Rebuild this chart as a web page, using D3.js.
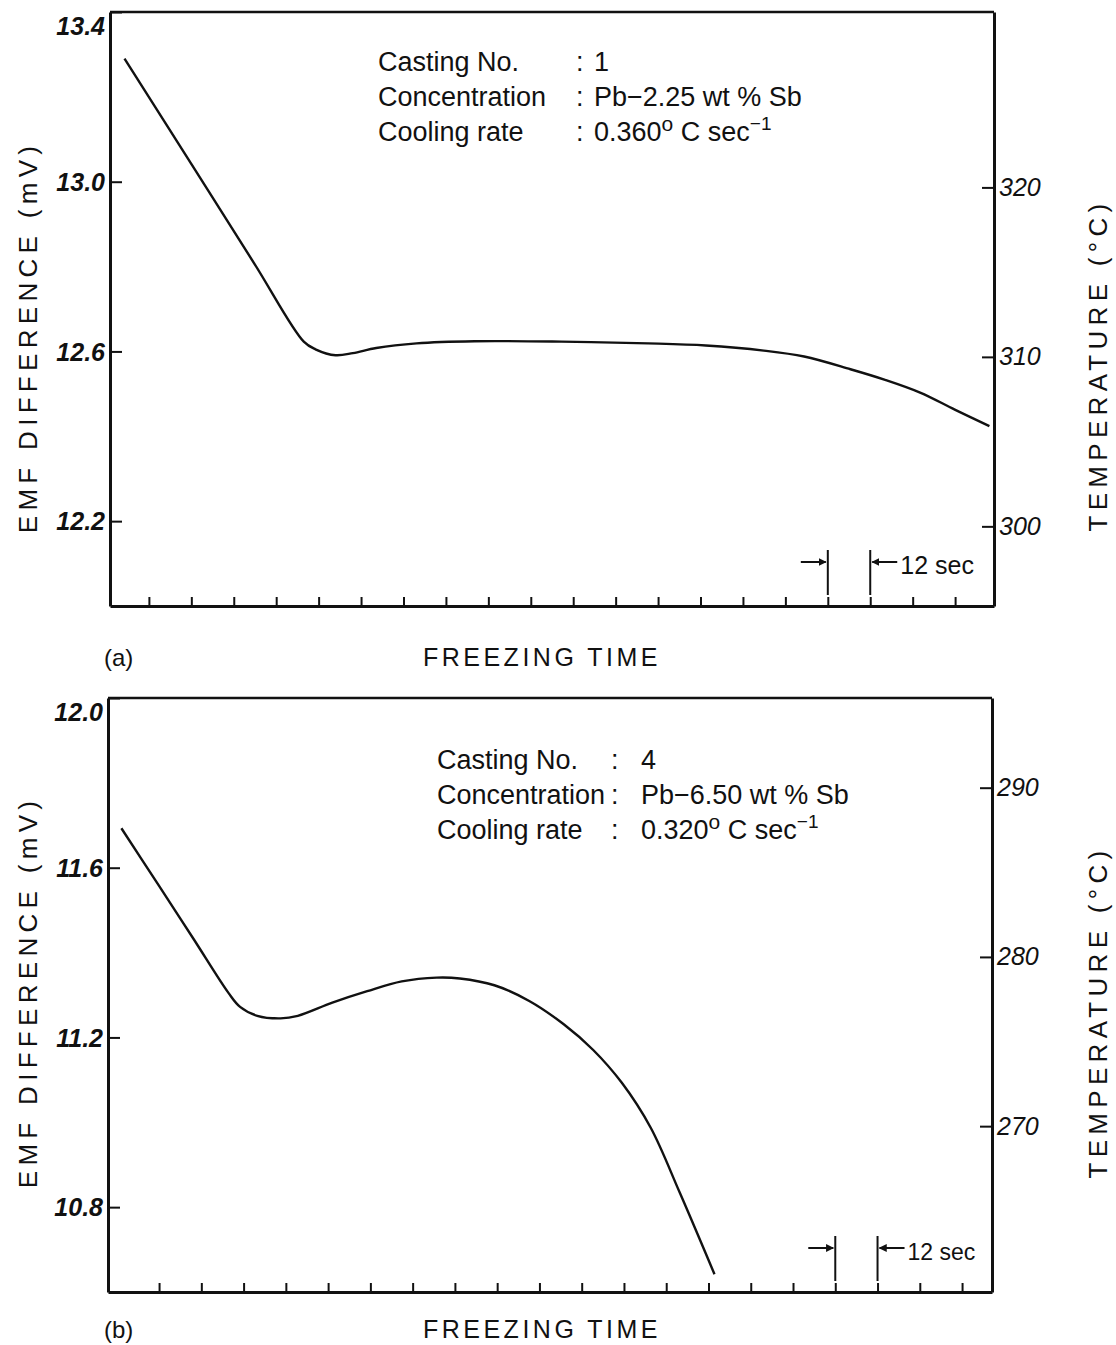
<!DOCTYPE html>
<html>
<head>
<meta charset="utf-8">
<script src="https://cdn.jsdelivr.net/npm/d3@7"></script>
<style>
  body { margin: 0; background: #fff; }
  text { font-family: "Liberation Sans", Arial, sans-serif; fill: #111; }
</style>
</head>
<body>
<script>
// (a) casting 1 : freezing time (s) vs emf difference (mV)
var timeA = [4.1, 22.9, 40.9, 54.8, 58.1, 63.8, 68.7, 75.3, 86.7, 103.1, 127.6, 152.2, 168.5, 184.9, 196.3, 209.4, 219.2, 229.1, 238.9, 248.7];
var emfA = [13.29, 13.043, 12.806, 12.623, 12.605, 12.591, 12.596, 12.608, 12.619, 12.624, 12.623, 12.619, 12.614, 12.602, 12.588, 12.558, 12.533, 12.503, 12.463, 12.424];

// (b) casting 4
var timeB = [3.8, 14.5, 24.3, 34.2, 37.5, 42.4, 49.0, 53.9, 63.7, 73.6, 83.4, 93.3, 99.9, 109.7, 119.6, 129.4, 137.7, 145.9, 154.1, 162.3, 172.2];
var emfB = [11.693, 11.557, 11.432, 11.305, 11.272, 11.251, 11.245, 11.251, 11.282, 11.309, 11.332, 11.341, 11.339, 11.323, 11.286, 11.231, 11.171, 11.093, 10.987, 10.835, 10.642];

var emfTicksA = [12.2, 12.6, 13.0, 13.4];
var emfTicksB = [10.8, 11.2, 11.6, 12.0];
var tempTicksA = [300, 310, 320];
var tempTicksB = [270, 280, 290];
var timeTicksA = [11, 23, 35, 47, 59, 71, 83, 95, 107, 119, 131, 143, 155, 167, 179, 191, 203, 215, 227, 239];
var timeTicksB = [14.5, 26.5, 38.5, 50.5, 62.5, 74.5, 86.5, 98.5, 110.5, 122.5, 134.5, 146.5, 158.5, 170.5, 182.5, 194.5, 206.5, 218.5, 230.5, 242.5];
var markA = [203, 215];
var markB = [206.5, 218.5];

var infoLabels = ["Casting No.", "Concentration", "Cooling rate"];
var infoA = ["1", "Pb\u22122.25 wt % Sb", "0.360"];
var infoB = ["4", "Pb\u22126.50 wt % Sb", "0.320"];

var svg = d3.select("body").append("svg").attr("width", 1116).attr("height", 1345);

svg.append("defs").append("marker")
  .attr("id", "arr").attr("viewBox", "0 0 10 10").attr("refX", 9).attr("refY", 5)
  .attr("markerWidth", 4).attr("markerHeight", 4).attr("orient", "auto")
  .append("path").attr("d", "M0,0L10,5L0,10z").attr("fill", "#111");

function panel(o) {
  var x = d3.scaleLinear().domain(o.xDom).range([o.left, o.right]);
  var y = d3.scaleLinear().domain(o.yDom).range([o.bottom, o.top]);
  var t = d3.scaleLinear().domain(o.tDom).range([o.bottom, o.top]);
  var g = svg.append("g");

  // frame top
  g.append("line").attr("x1", o.left).attr("x2", o.right).attr("y1", o.top).attr("y2", o.top)
    .attr("stroke", "#111").attr("stroke-width", 2.5);

  var ax = g.append("g").attr("transform", "translate(" + o.left + ",0)")
    .call(d3.axisLeft(y).tickValues(o.yTicks).tickSize(-12).tickSizeOuter(0).tickPadding(5).tickFormat(d3.format(".1f")));
  ax.selectAll("text").attr("font-size", 25).attr("font-style", "italic").attr("font-weight", "bold")
    .attr("dy", function (d) { return d === o.yDom[1] ? "0.9em" : "0.35em"; });

  var ar = g.append("g").attr("transform", "translate(" + o.right + ",0)")
    .call(d3.axisRight(t).tickValues(o.tTicks).tickSize(-12).tickSizeOuter(0).tickPadding(5));
  ar.selectAll("text").attr("font-size", 25).attr("font-style", "italic");

  g.append("g").attr("transform", "translate(0," + o.bottom + ")")
    .call(d3.axisBottom(x).tickValues(o.xTicks).tickSize(-9).tickSizeOuter(0).tickFormat(""));

  g.selectAll(".domain").attr("stroke", "#111").attr("stroke-width", 3);
  g.selectAll(".tick line").attr("stroke", "#111").attr("stroke-width", 2);
  g.selectAll(".tick text").attr("fill", "#111").attr("font-family", "Liberation Sans, Arial, sans-serif");

  // curve
  g.append("path")
    .datum(d3.zip(o.time, o.emf))
    .attr("fill", "none").attr("stroke", "#111").attr("stroke-width", 2.4)
    .attr("d", d3.line().x(function (d) { return x(d[0]); }).y(function (d) { return y(d[1]); })
      .curve(d3.curveCatmullRom.alpha(0.5)));

  // info block
  var info = g.append("g").attr("font-size", 27);
  infoLabels.forEach(function (lab, i) {
    var by = o.infoY + i * 35;
    info.append("text").attr("x", o.infoX).attr("y", by).text(lab);
    info.append("text").attr("x", o.infoX + o.colonDx).attr("y", by).text(":");
    var v = info.append("text").attr("x", o.infoX + o.colonDx + o.valDx).attr("y", by).text(o.info[i]);
    if (i === 2) {
      v.append("tspan").attr("font-size", 21).attr("dy", -10).text("o");
      v.append("tspan").attr("dy", 10).text(" C sec");
      v.append("tspan").attr("font-size", 19).attr("dy", -11).text("\u22121");
    }
  });

  // 12 sec marker
  var m0 = x(o.mark[0]), m1 = x(o.mark[1]);
  var my = o.bottom - 44;
  [m0, m1].forEach(function (mx) {
    g.append("line").attr("x1", mx).attr("x2", mx).attr("y1", o.bottom - 56).attr("y2", o.bottom - 11)
      .attr("stroke", "#111").attr("stroke-width", 2);
  });
  g.append("line").attr("x1", m0 - 27).attr("x2", m0 - 2).attr("y1", my).attr("y2", my)
    .attr("stroke", "#111").attr("stroke-width", 2).attr("marker-end", "url(#arr)");
  g.append("line").attr("x1", m1 + 27).attr("x2", m1 + 2).attr("y1", my).attr("y2", my)
    .attr("stroke", "#111").attr("stroke-width", 2).attr("marker-end", "url(#arr)");
  g.append("text").attr("x", m1 + 30).attr("y", o.bottom - 32).attr("font-size", o.secSize).text("12 sec");

  // axis titles
  g.append("text").attr("transform", "translate(37," + o.leftMid + ") rotate(-90)")
    .attr("text-anchor", "middle").attr("font-size", 26).attr("letter-spacing", 5.3)
    .text("EMF DIFFERENCE (mV)");
  g.append("text").attr("transform", "translate(1107," + o.rightMid + ") rotate(-90)")
    .attr("text-anchor", "middle").attr("font-size", 26).attr("letter-spacing", 5.3)
    .text("TEMPERATURE (\u00B0C)");
  g.append("text").attr("x", 542).attr("y", o.bottom + o.titleDy).attr("text-anchor", "middle")
    .attr("font-size", 25).attr("letter-spacing", 3.5).text("FREEZING TIME");
  g.append("text").attr("x", 104).attr("y", o.bottom + o.titleDy).attr("font-size", 24).text(o.tag);
}

panel({
  left: 110, right: 994, top: 12, bottom: 606,
  xDom: [0, 250], yDom: [12.0, 13.4], tDom: [295.3, 330.35],
  yTicks: emfTicksA, tTicks: tempTicksA, xTicks: timeTicksA,
  time: timeA, emf: emfA, mark: markA, secSize: 25,
  info: infoA, infoX: 378, infoY: 71, colonDx: 198, valDx: 18,
  leftMid: 337, rightMid: 365, tag: "(a)", titleDy: 60
});

panel({
  left: 108, right: 992, top: 698, bottom: 1292,
  xDom: [0, 251], yDom: [10.6, 12.0], tDom: [260.2, 295.3],
  yTicks: emfTicksB, tTicks: tempTicksB, xTicks: timeTicksB,
  time: timeB, emf: emfB, mark: markB, secSize: 23,
  info: infoB, infoX: 437, infoY: 769, colonDx: 174, valDx: 30,
  leftMid: 992, rightMid: 1012, tag: "(b)", titleDy: 46
});
</script>
</body>
</html>
